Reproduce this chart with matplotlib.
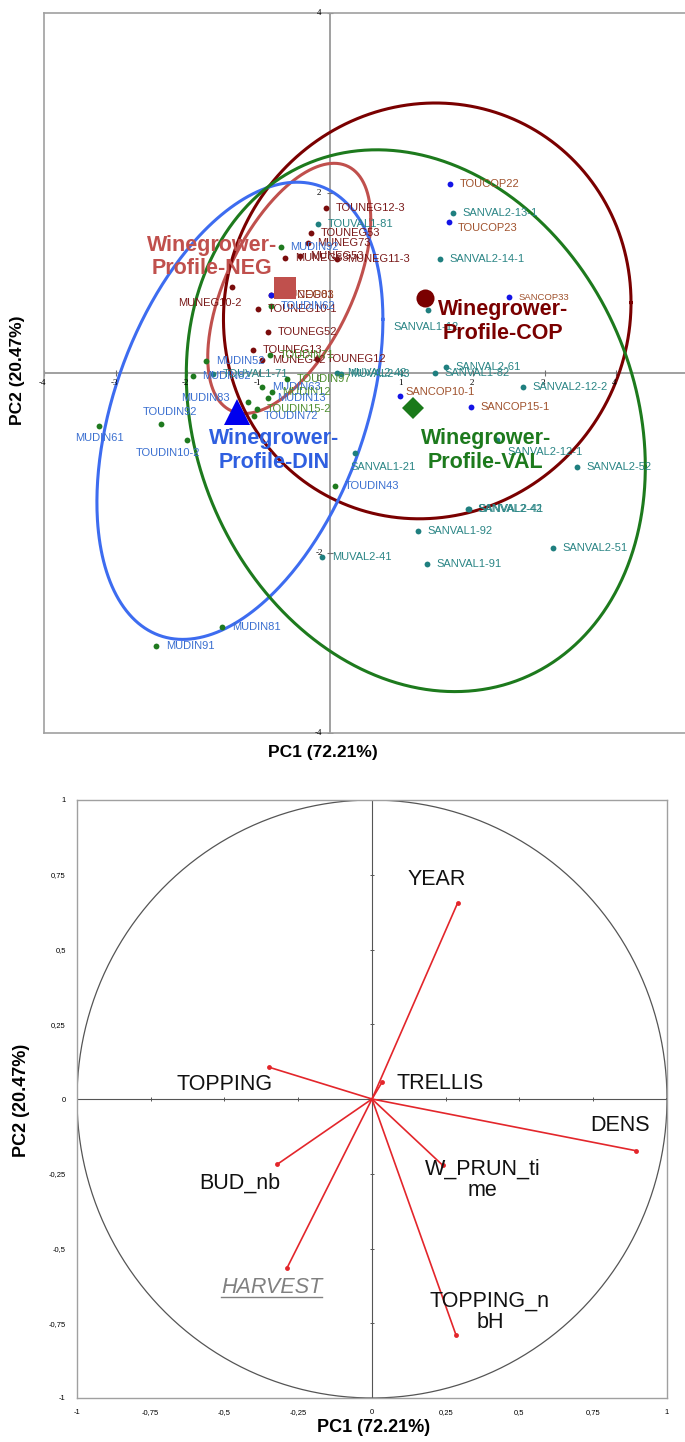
import matplotlib.pyplot as plt
import numpy as np

plt.rcParams['font.family'] = ['Liberation Sans', 'DejaVu Sans']

# ---- individual scores on the first two components ----
names = ['TOUNEG12-3', 'TOUNEG53', 'MUNEG73', 'MUNEG63', 'MUNEG53', 'MUNEG11-3',
         'MUNEG10-2', 'TOUNEG10-1', 'TOUNEG52', 'TOUNEG13', 'TOUNEG12', 'MUNEG01',
         'MUNEG42',
         'MUDIN92', 'TOUDIN62', 'TOUDIN71', 'MUDIN52', 'MUDIN82', 'TOUDIN97',
         'MUDIN63', 'MUDIN12', 'MUDIN13', 'MUDIN83', 'TOUDIN15-2', 'TOUDIN72',
         'TOUDIN92', 'MUDIN61', 'TOUDIN10-2', 'TOUDIN43', 'MUDIN81', 'MUDIN91',
         'TOUVAL1-81', 'TOUVAL1-71', 'SANVAL2-13-1', 'SANVAL2-14-1', 'SANVAL1-12',
         'SANVAL2-61', 'SANVAL1-82', 'SANVAL2-12-2', 'SANVAL2-12-1', 'SANVAL2-52',
         'SANVAL1-21', 'SANVAL2-42', 'SANVAL2-41', 'SANVAL1-92', 'SANVAL2-51',
         'SANVAL1-91', 'MUVAL2-41', 'MUVAL2-42', 'MUVAL2-43',
         'TOUCOP22', 'TOUCOP23', 'SANCOP33', 'SANCOP10-1', 'SANCOP15-1', 'MUCOP83']
pc1 = [-0.06, -0.27, -0.31, -0.63, -0.42, 0.10,
       -1.37, -1.01, -0.87, -1.08, -0.18, -0.83,
       -0.95,
       -0.69, -0.83, -0.84, -1.73, -1.92, -0.60,
       -0.95, -0.81, -0.87, -1.15, -1.02, -1.06,
       -2.36, -3.23, -2.00, 0.07, -1.51, -2.43,
       -0.17, -1.64, 1.72, 1.54, 1.37,
       1.62, 1.47, 2.70, 2.34, 3.45,
       0.35, 1.93, 1.94, 1.23, 3.12,
       1.36, -0.11, 0.10, 0.15,
       1.68, 1.66, 2.50, 0.98, 1.97, -0.83]
pc2 = [1.83, 1.56, 1.44, 1.28, 1.30, 1.27,
       0.96, 0.71, 0.46, 0.26, 0.16, 0.87,
       0.14,
       1.40, 0.74, 0.20, 0.13, -0.03, -0.07,
       -0.16, -0.21, -0.28, -0.32, -0.40, -0.48,
       -0.57, -0.59, -0.74, -1.26, -2.82, -3.03,
       1.66, -0.01, 1.78, 1.27, 0.70,
       0.07, 0.00, -0.16, -0.74, -1.04,
       -0.89, -1.51, -1.51, -1.76, -1.94,
       -2.12, -2.04, 0.00, -0.01,
       2.10, 1.68, 0.84, -0.26, -0.38, 0.87]
profile = ['NEG'] * 13 + ['DIN'] * 18 + ['VAL'] * 19 + ['COP'] * 6

# profile centroids
profiles = ['NEG', 'COP', 'DIN', 'VAL']
cent_x = [-0.63, 1.33, -1.30, 1.16]
cent_y = [0.94, 0.83, -0.43, -0.39]

# confidence ellipses: centre, half extent on PC1 / PC2, correlation
ell_x = [-0.57, 1.36, -1.26, 1.20]
ell_y = [0.94, 0.69, -0.42, -0.53]
ell_sx = [1.14, 2.85, 2.00, 3.21]
ell_sy = [1.39, 2.31, 2.54, 3.01]
ell_rho = [0.55, 0.04, 0.40, -0.17]

# ---- variable loadings (correlation circle) ----
variables = ['YEAR', 'TRELLIS', 'TOPPING', 'DENS', 'W_PRUN_ti\nme', 'BUD_nb',
             'HARVEST', 'TOPPING_n\nbH']
load_x = [0.29, 0.034, -0.348, 0.895, 0.24, -0.322, -0.288, 0.285]
load_y = [0.655, 0.056, 0.106, -0.173, -0.222, -0.219, -0.565, -0.79]

# styles
dot_col = {'NEG': '#7a0c0c', 'COP': '#1414e6', 'DIN': '#1f7a1f', 'VAL': '#1f7f7f'}
txt_col = {'NEG': '#7a1a1a', 'COP': '#a0522d', 'DIN': '#3a6fd0', 'VAL': '#2a8585'}
ell_col = {'NEG': '#c0504d', 'COP': '#7a0000', 'DIN': '#3d6cf0', 'VAL': '#1d7a1d'}
cent_mk = {'NEG': ('s', '#c0504d', 16), 'COP': ('o', '#7a0000', 13),
           'DIN': ('^', '#0000ee', 19), 'VAL': ('D', '#1a7a1a', 11)}
green_labels = {'TOUDIN15-2', 'TOUDIN97', 'MUDIN12', 'TOUDIN71'}
# label offsets in points (dx, dy, ha) where the default does not apply
label_off = {'MUNEG10-2': (7, -12, 'right'), 'TOUDIN92': (6.5, 8.6, 'center'),
             'MUDIN61': (0, -8.6, 'center'), 'TOUDIN10-2': (-13.7, -9.4, 'center'),
             'MUDIN83': (-13, 3, 'right'), 'SANVAL1-12': (-25, -12, 'left'),
             'TOUCOP23': (6.5, -4.3, 'left'), 'SANCOP10-1': (3.6, 3, 'left'),
             'SANVAL2-12-1': (7, -8.6, 'left'), 'SANVAL1-21': (-3.6, -10, 'left')}

W, H = 685, 1442
fig = plt.figure(figsize=(W / 100, H / 100), dpi=100)

# ================= individuals map =================
ax = fig.add_axes([44 / W, 1 - 733 / H, 643.5 / W, 720 / H])
ax.set_xlim(-4, 5)
ax.set_ylim(-4, 4)
for s in ax.spines.values():
    s.set_color('#a0a0a0')
    s.set_linewidth(1.2)
ax.set_xticks([])
ax.set_yticks([])
ax.axhline(0, color='#909090', lw=1.2, zorder=1)
ax.axvline(0, color='#909090', lw=1.2, zorder=1)

# tick marks and labels along the central axes
xt = [-4, -3, -2, -1, 1, 2, 3, 4]
ax.plot(xt, [0] * len(xt), ls='none', marker='|', ms=4, color='#707070', mew=0.8)
for v in xt:
    ax.annotate(str(v), (v, 0), xytext=(-1, -7), textcoords='offset points',
                ha='center', va='center', fontsize=6.5, family='Liberation Serif')
yt = [-4, -2, 2, 4]
ax.plot([0] * len(yt), yt, ls='none', marker='_', ms=4, color='#707070', mew=0.8)
for v in yt:
    ax.annotate(str(v), (0, v), xytext=(-8, 0), textcoords='offset points',
                ha='center', va='center', fontsize=6.5, family='Liberation Serif')
ax.annotate('0', (0, 0), xytext=(-8, -4), textcoords='offset points',
            ha='center', va='center', fontsize=6.5, family='Liberation Serif')

# ellipses
t = np.linspace(0, 2 * np.pi, 400)
for g, cx, cy, sx, sy, r in zip(profiles, ell_x, ell_y, ell_sx, ell_sy, ell_rho):
    ex = cx + sx * np.cos(t)
    ey = cy + sy * (r * np.cos(t) + np.sqrt(1 - r ** 2) * np.sin(t))
    ax.plot(ex, ey, color=ell_col[g], lw=2.2, zorder=2)

# individuals
for n, x, y, g in zip(names, pc1, pc2, profile):
    ax.plot(x, y, 'o', ms=4.2, color=dot_col[g], mew=0, zorder=4)
    dx, dy, ha = label_off.get(n, (7, 0, 'left'))
    col = '#4f8f2f' if n in green_labels else txt_col[g]
    fs = 6.8 if n == 'SANCOP33' else 8
    ax.annotate(n, (x, y), xytext=(dx, dy), textcoords='offset points',
                ha=ha, va='center', fontsize=fs, color=col, zorder=5)

# centroids
for g, x, y in zip(profiles, cent_x, cent_y):
    m, c, s = cent_mk[g]
    ax.plot(x, y, marker=m, color=c, ms=s, mew=0, zorder=6)

# profile names
grp_lab_pos = {'NEG': (-1.65, 1.29), 'COP': (2.42, 0.57),
               'DIN': (-0.78, -0.86), 'VAL': (2.18, -0.86)}
grp_lab_col = {'NEG': '#c0504d', 'COP': '#7a0000', 'DIN': '#2f5fe0', 'VAL': '#1d7a1d'}
for g in profiles:
    x, y = grp_lab_pos[g]
    ax.text(x, y, 'Winegrower-\nProfile-' + g, ha='center', va='center',
            fontsize=15.5, fontweight='bold', color=grp_lab_col[g],
            linespacing=1.15, zorder=7)

fig.text(323 / W, 1 - 752 / H, 'PC1 (72.21%)', ha='center', va='center',
         fontsize=12.5, fontweight='bold')
fig.text(18 / W, 1 - 370 / H, 'PC2 (20.47%)', ha='center', va='center',
         fontsize=12.5, fontweight='bold', rotation=90)

# ================= correlation circle =================
bx = fig.add_axes([77 / W, 1 - 1398 / H, 590 / W, 598 / H])
bx.set_xlim(-1, 1)
bx.set_ylim(-1, 1)
for s in bx.spines.values():
    s.set_color('#a0a0a0')
    s.set_linewidth(1.0)
ticks = np.arange(-1, 1.01, 0.25)
tick_lab = [('%g' % v).replace('.', ',') for v in ticks]
bx.set_xticks(ticks)
bx.set_xticklabels(tick_lab, fontsize=5.5)
bx.set_yticks(ticks)
bx.set_yticklabels(tick_lab, fontsize=5.5)
bx.tick_params(length=0, pad=8)
bx.axhline(0, color='#555555', lw=0.8)
bx.axvline(0, color='#555555', lw=0.8)
inner = ticks[(ticks != 0) & (np.abs(ticks) < 1)]
bx.plot(inner, np.zeros_like(inner), ls='none', marker='|', ms=3, color='#555555', mew=0.7)
bx.plot(np.zeros_like(inner), inner, ls='none', marker='_', ms=3, color='#555555', mew=0.7)
bx.plot(np.cos(t), np.sin(t), color='#555555', lw=0.9)

for v, x, y in zip(variables, load_x, load_y):
    bx.plot([0, x], [0, y], color='#e3262b', lw=1.2)
    bx.plot(x, y, 'o', color='#e3262b', ms=3.5, mew=0)

var_lab_pos = [(0.22, 0.735), (0.23, 0.052), (-0.50, 0.05), (0.84, -0.09),
               (0.375, -0.27), (-0.447, -0.28), (-0.34, -0.63), (0.40, -0.712)]
for v, (x, y) in zip(variables, var_lab_pos):
    if v == 'HARVEST':
        bx.text(x, y, v, ha='center', va='center', fontsize=15.5,
                style='italic', color='#808080')
    else:
        bx.text(x, y, v, ha='center', va='center', fontsize=15.5,
                color='#111111', linespacing=1.0)

# underline under HARVEST
fig.canvas.draw()
hv = [tx for tx in bx.texts if tx.get_text() == 'HARVEST'][0]
bb = hv.get_window_extent().transformed(bx.transData.inverted())
bx.plot([bb.x0, bb.x1], [bb.y0 + 0.003, bb.y0 + 0.003], color='#808080', lw=1.0)

fig.text(374 / W, 1 - 1428 / H, 'PC1 (72.21%)', ha='center', va='center',
         fontsize=13, fontweight='bold')
fig.text(22 / W, 1 - 1100 / H, 'PC2 (20.47%)', ha='center', va='center',
         fontsize=13, fontweight='bold', rotation=90)

fig.savefig('out.png', dpi=100)
